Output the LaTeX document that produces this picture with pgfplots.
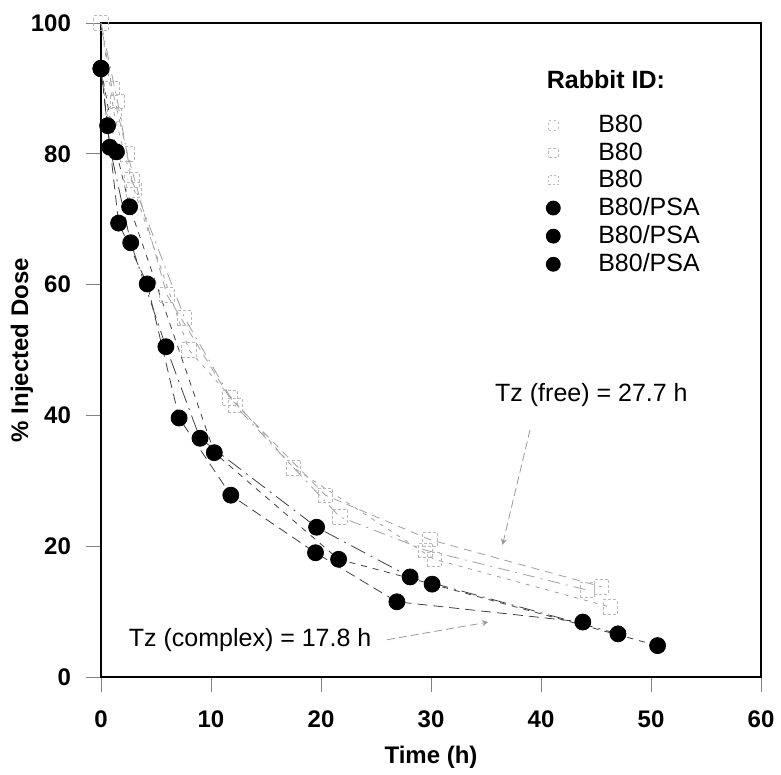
\documentclass[border=0pt]{standalone}
\usepackage{fontspec}
\setmainfont{Liberation Sans}
\usepackage{pgfplots}
\pgfplotsset{compat=1.18}
\begin{document}
\begin{tikzpicture}
\begin{axis}[
  name=ax,
  scale only axis,
  width=330pt, height=327pt,
  xmin=0, xmax=60, ymin=0, ymax=100,
  xtick={0,10,...,60}, ytick={0,20,...,100},
  xtick pos=left, ytick pos=left,
  tick align=outside, major tick length=7.5pt,
  tick style={gray, thin},
  axis line style={black, line width=1pt},
  /pgf/number format/assume math mode=true,
  ticklabel style={font=\bfseries\fontsize{12}{14}\selectfont},
  xticklabel style={yshift=-6pt},
  yticklabel style={xshift=-4pt},
  xlabel={Time (h)},
  ylabel={\% Injected Dose},
  label style={font=\bfseries\fontsize{12}{14}\selectfont},
  xlabel style={at={(axis description cs:0.5,-0.122)}, anchor=center},
  ylabel style={at={(axis description cs:-0.12,0.5)}, anchor=center, rotate=0},
  legend style={draw=none, fill=none, at={(0.665,0.872)}, anchor=north west,
    font=\fontsize{12.5}{14}\selectfont, row sep=-0.5pt},
  legend cell align=left,
  clip=false,
]
% B80 (free) series: open dashed squares
\addplot[forget plot, gray!75, dash pattern=on 4pt off 3pt, thin,
  mark=square, mark size=3.6pt, mark options={solid, gray!55, dash pattern=on 1.5pt off 1pt}]
  coordinates {(0,100) (1.0,90) (2.4,80) (6.0,58.4) (11.7,42.7) (20.4,27.8) (29.9,21.0) (45.5,13.8)};
\addplot[forget plot, gray!75, dash pattern=on 6pt off 3pt on 1pt off 3pt, thin,
  mark=square, mark size=3.6pt, mark options={solid, gray!55, dash pattern=on 1.5pt off 1pt}]
  coordinates {(0,100) (1.5,88) (2.8,76) (7.6,54.9) (12.2,41.5) (21.7,24.5) (29.5,19.4) (44.2,13.3)};
\addplot[forget plot, gray!75, dash pattern=on 2pt off 3pt, thin,
  mark=square, mark size=3.6pt, mark options={solid, gray!55, dash pattern=on 1.5pt off 1pt}]
  coordinates {(0,100) (1.2,86) (3.0,74.5) (8.0,50) (17.5,32) (30.3,18) (46.3,10.7)};
% B80/PSA (complex) series: filled circles
\addplot[forget plot, black!75, dash pattern=on 5pt off 3pt, thin,
  mark=*, mark size=4pt, mark options={solid, black}]
  coordinates {(0,93.1) (0.6,84.3) (1.6,69.4) (4.2,60.1) (7.1,39.6) (11.8,27.8) (19.5,19.0) (26.9,11.5) (43.8,8.4)};
\addplot[forget plot, black!75, dash pattern=on 8pt off 3pt on 1pt off 3pt, thin,
  mark=*, mark size=4pt, mark options={solid, black}]
  coordinates {(0,93) (0.8,81.0) (2.7,66.4) (5.9,50.5) (9.0,36.5) (19.6,22.9) (28.1,15.3) (47.0,6.6)};
\addplot[forget plot, black!75, dash pattern=on 3pt off 3pt, thin,
  mark=*, mark size=4pt, mark options={solid, black}]
  coordinates {(0,93) (1.4,80.3) (2.6,71.9) (10.3,34.3) (21.6,18.0) (30.1,14.2) (50.6,4.8)};
% legend
\addlegendimage{only marks, mark=square, mark size=2.3pt, mark options={gray!50, dash pattern=on 1pt off 1.5pt}}
\addlegendentry{\hspace{17pt}B80}
\addlegendimage{only marks, mark=square, mark size=2.3pt, mark options={gray!55, dash pattern=on 1.5pt off 1pt}}
\addlegendentry{\hspace{17pt}B80}
\addlegendimage{only marks, mark=square, mark size=2.3pt, mark options={gray!55, dash pattern=on 1pt off 1pt}}
\addlegendentry{\hspace{17pt}B80}
\addlegendimage{only marks, mark=*, mark size=3.5pt, mark options={black}}
\addlegendentry{\hspace{17pt}B80/PSA}
\addlegendimage{only marks, mark=*, mark size=3.5pt, mark options={black}}
\addlegendentry{\hspace{17pt}B80/PSA}
\addlegendimage{only marks, mark=*, mark size=3.5pt, mark options={black}}
\addlegendentry{\hspace{17pt}B80/PSA}
% annotations
\node[anchor=west, font=\bfseries\fontsize{12.5}{14}\selectfont, inner sep=0pt] at (axis cs:40.5,91.3) {Rabbit ID:};
\node[anchor=west, font=\fontsize{12.5}{14}\selectfont, inner sep=0pt] at (axis cs:35.8,43.1) {Tz (free) = 27.7 h};
\draw[->, >=stealth, gray!80, dash pattern=on 4pt off 2pt] (axis cs:39.0,37.8) -- (axis cs:36.5,20.2);
\node[anchor=west, font=\fontsize{12.5}{14}\selectfont, inner sep=0pt] at (axis cs:2.5,5.7) {Tz (complex) = 17.8 h};
\draw[->, >=stealth, gray!80, dash pattern=on 4pt off 2pt] (axis cs:26.0,5.7) -- (axis cs:35.2,8.4);
\end{axis}
\pgfresetboundingbox
\path[use as bounding box] ([shift={(-50.5pt,-48.5pt)}]ax.south west) rectangle ([shift={(10pt,11.5pt)}]ax.north east);
\end{tikzpicture}
\end{document}
